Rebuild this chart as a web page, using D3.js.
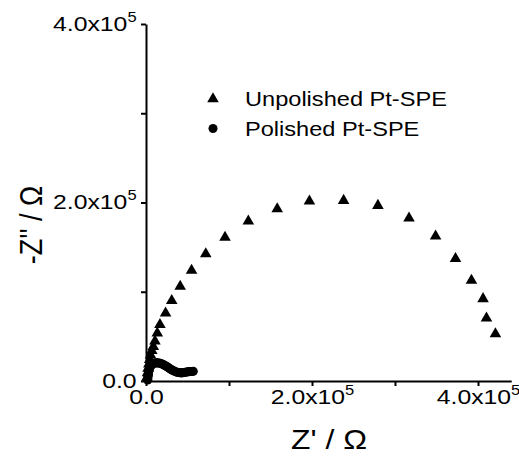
<!doctype html>
<html lang="en">
<head>
<meta charset="UTF-8">
<title>nyquist</title>
<script src="https://cdn.jsdelivr.net/npm/d3@7"></script>
<style>
    body { margin: 0; background: #fff; }
    text { font-family: "Liberation Sans", Arial, sans-serif; fill: #000; }
</style>
</head>
<body>
<svg width="519" height="457"></svg>
<script>

    // Unpolished Pt-SPE (Z', -Z'') in ohm
    let unpolishedX = [0.012e5, 0.018e5, 0.025e5, 0.035e5, 0.045e5, 0.055e5, 0.07e5, 0.088e5, 0.108e5, 0.136e5,
        0.168e5, 0.236e5, 0.31e5, 0.412e5, 0.549e5, 0.72e5, 0.952e5, 1.233e5, 1.581e5, 1.969e5,
        2.381e5, 2.794e5, 3.169e5, 3.489e5, 3.729e5, 3.921e5, 4.061e5, 4.102e5, 4.21e5];
    let unpolishedY = [0.04e5, 0.09e5, 0.14e5, 0.19e5, 0.24e5, 0.29e5, 0.34e5, 0.385e5, 0.445e5, 0.536e5,
        0.632e5, 0.761e5, 0.90e5, 1.06e5, 1.239e5, 1.424e5, 1.61e5, 1.79e5, 1.929e5, 2.015e5,
        2.022e5, 1.966e5, 1.824e5, 1.622e5, 1.371e5, 1.127e5, 0.921e5, 0.704e5, 0.528e5];

    // Polished Pt-SPE
    let polishedX = [0.020e5, 0.022e5, 0.024e5, 0.027e5, 0.030e5, 0.034e5, 0.039e5, 0.046e5, 0.055e5, 0.066e5,
        0.078e5, 0.092e5, 0.107e5, 0.122e5, 0.138e5, 0.154e5, 0.170e5, 0.186e5, 0.202e5, 0.218e5,
        0.234e5, 0.250e5, 0.266e5, 0.282e5, 0.298e5, 0.314e5, 0.330e5, 0.346e5, 0.362e5, 0.378e5,
        0.394e5, 0.410e5, 0.426e5, 0.442e5, 0.458e5, 0.474e5, 0.490e5, 0.506e5, 0.522e5, 0.538e5,
        0.554e5, 0.570e5];
    let polishedY = [0.010e5, 0.030e5, 0.050e5, 0.070e5, 0.090e5, 0.110e5, 0.130e5, 0.150e5, 0.167e5, 0.180e5,
        0.190e5, 0.197e5, 0.201e5, 0.203e5, 0.203e5, 0.202e5, 0.199e5, 0.194e5, 0.188e5, 0.180e5,
        0.171e5, 0.162e5, 0.152e5, 0.142e5, 0.132e5, 0.123e5, 0.115e5, 0.108e5, 0.102e5, 0.097e5,
        0.094e5, 0.092e5, 0.091e5, 0.092e5, 0.094e5, 0.097e5, 0.100e5, 0.103e5, 0.105e5, 0.106e5,
        0.107e5, 0.108e5];

    let seriesNames = ["Unpolished Pt-SPE", "Polished Pt-SPE"];
    let tickValues = [0, 1e5, 2e5, 3e5, 4e5];
    let labelledTicks = [0, 2e5, 4e5];

    let svg = d3.select("svg");
    let grid = {left: 146, right: 8, top: 24, bottom: 76};
    let width = +svg.attr("width"), height = +svg.attr("height");
    let stretch = 1.18; // the source image text is a bit wide

    let xScale = d3.scaleLinear().domain([0, 4.4e5]).range([grid.left, grid.left + 4.4 * 83]);
    let yScale = d3.scaleLinear().domain([0, 4e5]).range([height - grid.bottom, grid.top]);

    // mantissa + "x10" with superscript exponent
    function sciLabel(sel, d) {
        sel.text(null);
        if (labelledTicks.indexOf(d) < 0) return;
        if (d === 0) { sel.text("0.0"); return; }
        let e = Math.floor(Math.log10(d));
        sel.append("tspan").text((d / Math.pow(10, e)).toFixed(1) + "x10");
        sel.append("tspan").attr("dy", -9).style("font-size", "14px").text(e);
    }

    let xAxis = d3.axisBottom(xScale).tickValues(tickValues).tickSize(5).tickSizeOuter(0).tickPadding(3);
    let yAxis = d3.axisLeft(yScale).tickValues(tickValues).tickSize(5).tickSizeOuter(0).tickPadding(3);

    let gx = svg.append("g")
        .attr("transform", "translate(0," + yScale(0) + ")")
        .call(xAxis);
    let gy = svg.append("g")
        .attr("transform", "translate(" + xScale(0) + ",0)")
        .call(yAxis);

    [gx, gy].forEach(g => {
        g.attr("font-family", null);
        g.select(".domain").attr("stroke", "#000").attr("stroke-width", 2);
        g.selectAll(".tick line").attr("stroke", "#000").attr("stroke-width", 2);
        g.selectAll(".tick text")
            .style("font-size", "21px")
            .attr("transform", "scale(" + stretch + ",1)")
            .each(function (d) { sciLabel(d3.select(this), d); });
    });
    gy.selectAll(".tick text").attr("dy", "0.3em");

    // axis titles
    svg.append("text")
        .attr("transform", "translate(329,449) scale(" + stretch + ",1)")
        .attr("text-anchor", "middle")
        .style("font-size", "27px")
        .text("Z' / \u03A9");
    svg.append("text")
        .attr("transform", "translate(42,225) rotate(-90) scale(1," + stretch + ")")
        .attr("text-anchor", "middle")
        .style("font-size", "27px")
        .text("-Z'' / \u03A9");

    let tri = d3.symbol().type(d3.symbolTriangle).size(58);
    let circ = d3.symbol().type(d3.symbolCircle).size(64);

    svg.append("g").selectAll("path")
        .data(polishedX)
        .enter().append("path")
        .attr("d", circ)
        .attr("transform", (d, i) => "translate(" + xScale(d) + "," + yScale(polishedY[i]) + ")")
        .attr("fill", "#000");

    svg.append("g").selectAll("path")
        .data(unpolishedX)
        .enter().append("path")
        .attr("d", tri)
        .attr("transform", (d, i) => "translate(" + xScale(d) + "," + yScale(unpolishedY[i]) + ")")
        .attr("fill", "#000");

    // legend
    let legend = svg.append("g").attr("transform", "translate(213,99)");
    legend.append("path").attr("d", tri).attr("fill", "#000");
    legend.append("path").attr("d", circ).attr("transform", "translate(0,29.5)").attr("fill", "#000");
    legend.selectAll("text")
        .data(seriesNames)
        .enter().append("text")
        .attr("transform", (d, i) => "translate(32," + (i * 29.5) + ") scale(" + stretch + ",1)")
        .attr("dy", "0.35em")
        .style("font-size", "20px")
        .text(d => d);

</script>
</body>
</html>
